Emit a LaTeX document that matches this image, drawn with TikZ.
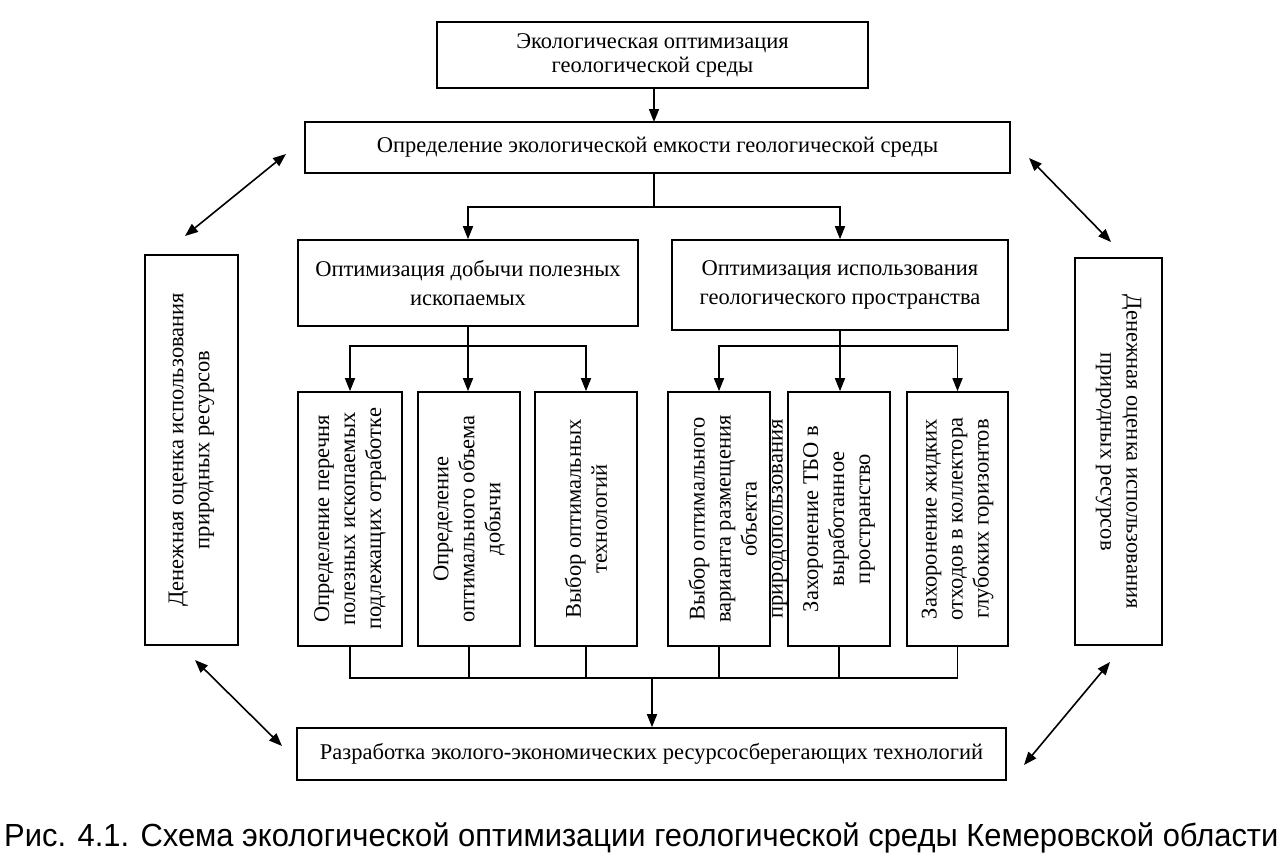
\documentclass[tikz,border=0pt]{standalone}
\usepackage{fontspec}
\setmainfont{Liberation Serif}
\newfontfamily\capfont{Liberation Sans}
\usetikzlibrary{arrows.meta}
\begin{document}
\begin{tikzpicture}[x=1pt,y=-1pt,
  box/.style={draw, line width=1.6pt, inner sep=0pt, align=center,
    font=\fontsize{22.5}{26}\selectfont},
  vtext/.style={align=center, inner sep=0pt, font=\fontsize{22.5}{26}\selectfont},
  conn/.style={line width=1.6pt},
  arr/.style={line width=1.6pt, -{Triangle[length=13pt,width=10pt]}},
  darr/.style={line width=1.6pt, {Triangle[length=13pt,width=10pt]}-{Triangle[length=13pt,width=10pt]}}]
\useasboundingbox (0,0) rectangle (1280,865);
% main boxes
\node[box, minimum width=431pt, minimum height=66pt, font=\fontsize{22.5}{24}\selectfont] (top) at (652.5,55) {Экологическая оптимизация\\геологической среды};
\node[box, minimum width=705pt, minimum height=51pt] (env) at (657.5,147.5) {Определение экологической емкости геологической среды};
\node[box, minimum width=340pt, minimum height=86pt, font=\fontsize{22.5}{29}\selectfont] (mine) at (468,283) {Оптимизация добычи полезных\\ископаемых};
\node[box, minimum width=336pt, minimum height=90pt, font=\fontsize{22.5}{29}\selectfont] (space) at (840,285) {Оптимизация использования\\геологического пространства};
% vertical boxes
\node[box, minimum width=104pt, minimum height=254pt] (v1) at (350,519) {};
\node[box, minimum width=102pt, minimum height=254pt] (v2) at (469,519) {};
\node[box, minimum width=102pt, minimum height=254pt] (v3) at (586,519) {};
\node[box, minimum width=102pt, minimum height=254pt] (v4) at (719,519) {};
\node[box, minimum width=102pt, minimum height=254pt] (v5) at (839,519) {};
\node[box, minimum width=101pt, minimum height=254pt] (v6) at (957.5,519) {};
\node[vtext, rotate=90] (t1) at (v1.center) {Определение перечня\\полезных ископаемых\\подлежащих отработке};
\node[vtext, rotate=90] (t2) at (v2.center) {Определение\\оптимального объема\\добычи};
\node[vtext, rotate=90] (t3) at (v3.center) {Выбор оптимальных\\технологий};
\node[vtext, rotate=90] (t4) at (738,519) {Выбор оптимального\\варианта размещения\\объекта\\природопользования};
\node[vtext, rotate=90] (t5) at (v5.center) {Захоронение ТБО в\\выработанное\\пространство};
\node[vtext, rotate=90] (t6) at (v6.center) {Захоронение жидких\\отходов в коллектора\\глубоких горизонтов};
% side boxes
\node[box, minimum width=93pt, minimum height=390pt] (left) at (191.5,450) {};
\node[vtext, rotate=90] (tl) at (left.center) {Денежная оценка использования\\природных ресурсов};
\node[box, minimum width=87pt, minimum height=387pt] (right) at (1118.5,451.5) {};
\node[vtext, rotate=-90] (tr) at (right.center) {Денежная оценка использования\\природных ресурсов};
% bottom box
\node[box, minimum width=709pt, minimum height=52pt] (bot) at (651.5,754) {Разработка эколого-экономических ресурсосберегающих технологий};
% connectors
\draw[arr] (654,88) -- (654,122);
\coordinate (s1) at (654,207);
\draw[conn] (env.south -| s1) -- (s1);
\draw[arr] (s1) -| (mine.north);
\draw[arr] (s1) -| (space.north);
\coordinate (s2) at (468,346);
\draw[conn] (mine.south) -- (s2);
\draw[arr] (s2) -| (v1.north);
\draw[arr] (s2) -- (v2.north -| s2);
\draw[arr] (s2) -| (v3.north);
\coordinate (s3) at (840,346);
\draw[conn] (space.south) -- (s3);
\draw[arr] (s3) -| (v4.north);
\draw[arr] (s3) -- (v5.north -| s3);
\draw[arr] (s3) -| (v6.north);
\coordinate (j) at (652,678);
\draw[conn] (v1.south) |- (j);
\draw[conn] (v2.south) |- (j);
\draw[conn] (v3.south) |- (j);
\draw[conn] (v4.south) |- (j);
\draw[conn] (v5.south) |- (j);
\draw[conn] (v6.south) |- (j);
\draw[arr] (j) -- (j |- bot.north);
% double arrows
\coordinate (a1) at (185,236); \coordinate (a2) at (286,154);
\coordinate (b1) at (1029,158); \coordinate (b2) at (1111,242);
\coordinate (c1) at (195,660); \coordinate (c2) at (282,746);
\coordinate (d1) at (1110,662); \coordinate (d2) at (1024,765);
\draw[darr] (a1) -- (a2);
\draw[darr] (b1) -- (b2);
\draw[darr] (c1) -- (c2);
\draw[darr] (d1) -- (d2);
% caption
\node[anchor=west, inner sep=0pt] (cap) at (4,838) {\capfont\fontsize{32}{36}\selectfont\resizebox{1274pt}{\height}{Рис. 4.1. Схема экологической оптимизации геологической среды Кемеровской области}};
\end{tikzpicture}
\end{document}
